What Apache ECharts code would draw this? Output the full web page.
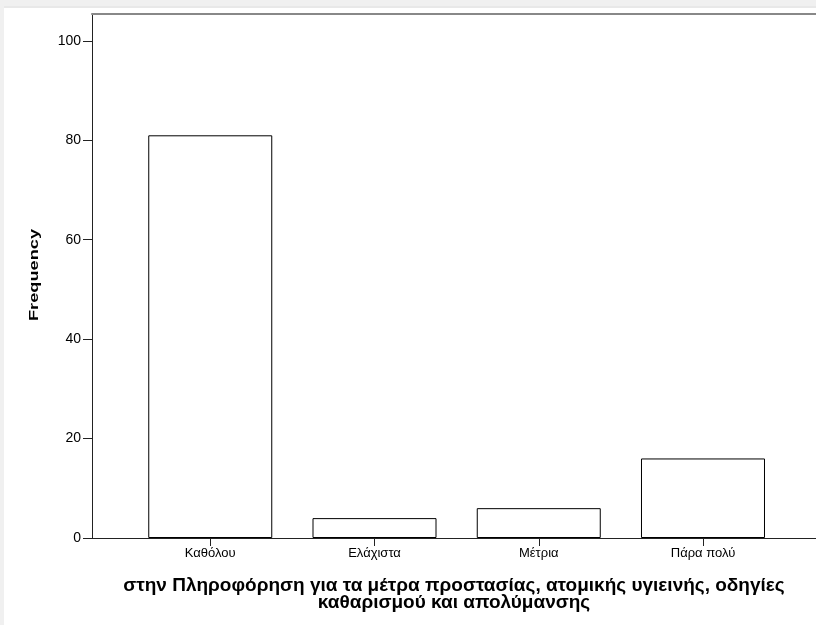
<!DOCTYPE html>
<html>
<head>
<meta charset="utf-8">
<script src="https://cdn.jsdelivr.net/npm/echarts@6/dist/echarts.min.js"></script>
<style>
  html, body { margin: 0; padding: 0; background: #fff; }
  #chart { width: 816px; height: 625px; }
</style>
</head>
<body>
<div id="chart"></div>
<script>
// categories and frequencies
const categories = ['Καθόλου', 'Ελάχιστα', 'Μέτρια', 'Πάρα πολύ'];
const frequencies = [81, 4, 6, 16];
const yTicks = [0, 20, 40, 60, 80, 100];
const xTicks = [0, 1, 2, 3];
const xTitle = 'στην Πληροφόρηση για τα μέτρα προστασίας, ατομικής υγιεινής, οδηγίες\nκαθαρισμού και απολύμανσης';
const yTitle = 'Frequency';

const chart = echarts.init(document.getElementById('chart'));
const font = '"Liberation Sans", Arial, sans-serif';

// x range: the plot runs past the right edge of the window, like the screenshot
const xMin = -0.72;
const xMax = 3.688;

const option = {
  animation: false,
  backgroundColor: '#fff',
  graphic: [
    // light frame of the viewer window
    { type: 'rect', left: 0, top: 0, shape: { width: 816, height: 6 }, style: { fill: '#f0f0f0' }, silent: true },
    { type: 'rect', left: 0, top: 6, shape: { width: 816, height: 2 }, style: { fill: '#e8e8e8' }, silent: true },
    { type: 'rect', left: 0, top: 0, shape: { width: 4, height: 625 }, style: { fill: '#f0f0f0' }, silent: true },
    // y axis title, drawn wide like the SPSS output
    {
      type: 'text',
      x: 34,
      y: 275,
      rotation: Math.PI / 2,
      scaleX: 1.4,
      style: {
        text: yTitle,
        font: 'bold 13px "Liberation Sans", Arial, sans-serif',
        fill: '#000',
        align: 'center',
        verticalAlign: 'middle'
      },
      silent: true
    }
  ],
  grid: {
    left: 92,
    right: 0,
    top: 14,
    bottom: 87
  },
  xAxis: [
    {
      type: 'value',
      min: xMin,
      max: xMax,
      name: xTitle,
      nameLocation: 'middle',
      nameGap: 39,
      nameTextStyle: { fontFamily: font, fontSize: 19, fontWeight: 'bold', color: '#000', lineHeight: 17 },
      axisLine: { show: true, onZero: false, lineStyle: { color: '#222', width: 1 } },
      axisTick: { show: true, length: 8, customValues: xTicks, lineStyle: { color: '#222' } },
      axisLabel: {
        customValues: xTicks,
        formatter: (v) => categories[Math.round(v)],
        fontFamily: font,
        fontSize: 13,
        color: '#000',
        margin: 9
      },
      splitLine: { show: false }
    },
    {
      // top frame line only
      type: 'value',
      position: 'top',
      min: xMin,
      max: xMax,
      axisLine: { show: true, onZero: false, lineStyle: { color: '#888', width: 2 } },
      axisTick: { show: false },
      axisLabel: { show: false },
      splitLine: { show: false }
    }
  ],
  yAxis: {
    type: 'value',
    min: 0,
    max: 105.4,
    axisLine: { show: true, onZero: false, lineStyle: { color: '#222', width: 1 } },
    axisTick: { show: true, length: 9, customValues: yTicks, lineStyle: { color: '#222' } },
    axisLabel: {
      customValues: yTicks,
      fontFamily: font,
      fontSize: 14,
      color: '#000',
      margin: 11
    },
    splitLine: { show: false }
  },
  series: [
    {
      type: 'bar',
      xAxisIndex: 0,
      barWidth: 124,
      data: frequencies.map((v, i) => [i, v]),
      itemStyle: { color: '#fff', borderColor: '#000', borderWidth: 1 }
    }
  ]
};
chart.setOption(option);
</script>
</body>
</html>
